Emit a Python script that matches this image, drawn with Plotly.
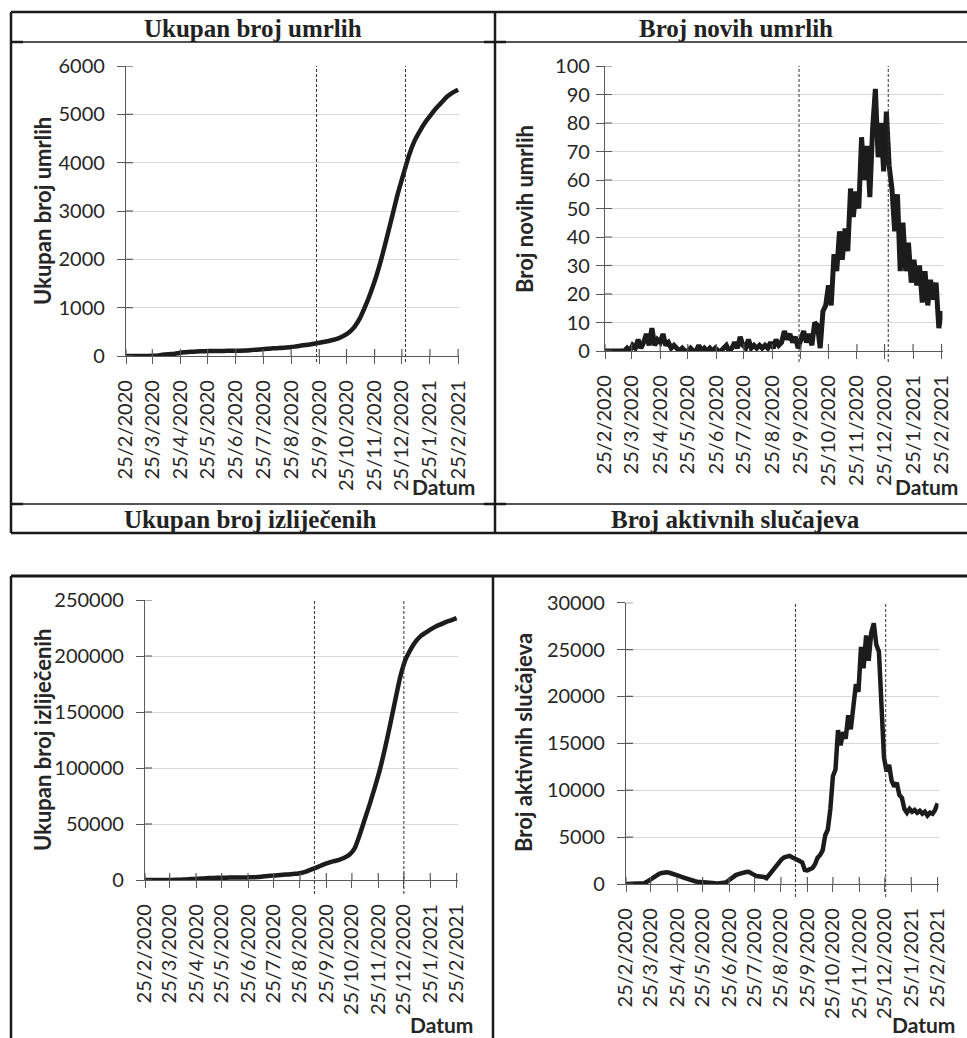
import pandas as pd
import plotly.graph_objects as go

W, H = 967, 1038
START = "2020-02-25"
X_END = "2021-02-26"
TICK_LABELS = ["25/2/2020", "25/3/2020", "25/4/2020", "25/5/2020", "25/6/2020",
               "25/7/2020", "25/8/2020", "25/9/2020", "25/10/2020", "25/11/2020",
               "25/12/2020", "25/1/2021", "25/2/2021"]

DEATHS_STEP = 6
total_deaths = [0, 0, 0, 0, 1, 5, 12, 31, 39, 48,
                69, 79, 90, 95, 99, 101, 103, 104, 106, 107,
                107, 109, 113, 122, 131, 139, 149, 159, 164, 170,
                180, 194, 213, 226, 243, 262, 283, 306, 330, 365,
                419, 490, 610, 790, 1040, 1330, 1660, 2050, 2490, 2940,
                3390, 3780, 4160, 4450, 4660, 4840, 4990, 5130, 5250, 5370,
                5450, 5510]

NEW_STEP = 3
new_deaths = [0, 0, 0, 0, 0, 0, 0, 0, 1, 0,
              2, 1, 4, 1, 3, 6, 2, 8, 2, 4,
              3, 6, 2, 3, 1, 2, 1, 0, 1, 0,
              0, 1, 0, 0, 2, 0, 1, 0, 1, 0,
              1, 0, 0, 1, 2, 0, 1, 3, 1, 5,
              2, 1, 4, 1, 2, 1, 2, 1, 2, 1,
              3, 1, 4, 2, 3, 7, 4, 6, 3, 5,
              1, 4, 7, 3, 6, 2, 10, 9, 1, 14,
              16, 23, 16, 34, 28, 42, 32, 43, 35, 57,
              47, 56, 50, 75, 60, 72, 54, 78, 92, 68,
              80, 63, 84, 65, 57, 42, 55, 28, 45, 28,
              38, 24, 32, 23, 30, 17, 28, 16, 25, 18,
              24, 8, 14]

RECOV_STEP = 6
total_recovered = [0, 0, 0, 0, 10, 50, 150, 300, 500, 800,
                   1100, 1300, 1600, 1800, 1950, 2050, 2100, 2150, 2200, 2250,
                   2300, 2450, 2700, 3100, 3500, 3900, 4300, 4700, 5000, 5400,
                   5800, 6800, 8400, 10200, 12000, 14000, 15500, 16800, 18000, 19800,
                   22500, 28000, 40000, 54000, 68000, 83000, 99000, 118000, 139000, 161000,
                   182000, 197000, 206000, 213000, 218000, 221000, 224000, 226500, 228500, 230500,
                   232000, 233800]

ACTIVE_STEP = 3
active_cases = [0, 0, 0, 0, 10, 20, 40, 80, 200, 380,
                600, 800, 960, 1090, 1180, 1230, 1240, 1200, 1130, 1040,
                950, 830, 720, 620, 520, 430, 370, 300, 250, 210,
                180, 150, 120, 100, 80, 70, 60, 60, 70, 150,
                350, 600, 800, 950, 1050, 1150, 1200, 1280, 1300, 1200,
                1000, 850, 830, 800, 750, 620, 900, 1300, 1650, 2000,
                2350, 2650, 2850, 2900, 3000, 2850, 2750, 2600, 2450, 2300,
                1500, 1450, 1550, 1700, 2100, 2800, 3100, 3600, 5200, 5800,
                8000, 11500, 12200, 16400, 14800, 16200, 15500, 18000, 16500, 19500,
                21300, 20500, 25300, 23000, 26500, 23800, 26800, 27800, 25500, 24800,
                19600, 13500, 12000, 12700, 11000, 10400, 10800, 9500, 9200, 8000,
                7600, 8000, 7700, 7900, 7600, 7800, 7500, 7700, 7300, 7600,
                7500, 7900, 8600]

HEADERS = ["Ukupan broj umrlih", "Broj novih umrlih",
           "Ukupan broj izliječenih", "Broj aktivnih slučajeva"]
Y_TITLES = ["Ukupan broj umrlih", "Broj novih umrlih",
            "Ukupan broj izliječenih", "Broj aktivnih slučajeva"]
X_TITLE = "Datum"
Y_MAX = [6000, 100, 250000, 30000]
Y_DTICK = [1000, 10, 50000, 5000]
DASH_DATES = [["2020-09-22", "2020-12-29"], ["2020-09-23", "2020-12-29"],
              ["2020-09-11", "2020-12-25"], ["2020-09-11", "2020-12-26"]]

SERIES = [(total_deaths, DEATHS_STEP), (new_deaths, NEW_STEP),
          (total_recovered, RECOV_STEP), (active_cases, ACTIVE_STEP)]
SMOOTH = [True, False, True, False]
LINE_W = [4.5, 5, 4.5, 4.5]

# ---------------- layout geometry (pixels) ----------------
PLOT_BOX = [(126, 459, 66, 356), (605, 942.5, 66, 351),
            (145, 457.5, 600, 880), (626, 938.5, 602.7, 884)]
YTITLE_POS = [(43, 211), (525, 209), (42, 740), (523, 743)]
DATUM_POS = [(476, 487), (959, 487), (474, None), (956, None)]
HEADER_POS = [(253, 28), (736, 28), (250, 519), (735, 519)]
YLAB_STANDOFF = [8, 2, 8, 8]
DASH_BELOW = [6, 11, 14, 13]

def px(x):
    return x / W

def py(y):
    return 1 - y / H

FONT = "Lato"
TXT = "#262626"
AX = "#5a5a5a"
tickvals = pd.to_datetime(TICK_LABELS, format="%d/%m/%Y")

fig = go.Figure()
shapes = []
annotations = []

for i, ((vals, step), box) in enumerate(zip(SERIES, PLOT_BOX)):
    n = i + 1
    sfx = "" if n == 1 else str(n)
    xs = pd.date_range(START, periods=len(vals), freq=f"{step}D")
    line = dict(color="#1c1c1c", width=LINE_W[i])
    if SMOOTH[i]:
        line.update(shape="spline", smoothing=0.6)
    fig.add_trace(go.Scatter(x=xs, y=vals, mode="lines", line=line,
                             xaxis=f"x{sfx}", yaxis=f"y{sfx}",
                             showlegend=False, hoverinfo="skip"))
    x0, x1, yt, yb = box
    fig.layout[f"xaxis{sfx}"] = dict(
        domain=[px(x0), px(x1)], anchor=f"y{sfx}", type="date",
        range=[START, X_END], tickmode="array", tickvals=tickvals,
        ticktext=TICK_LABELS, tickangle=-90, ticks="outside", ticklen=7,
        tickwidth=1.2, tickcolor=AX, showline=True, linecolor=AX, linewidth=1.2,
        showgrid=False, zeroline=False, ticklabelstandoff=8, automargin=False,
        tickfont=dict(family=FONT, size=20, color=TXT))
    fig.layout[f"yaxis{sfx}"] = dict(
        domain=[py(yb), py(yt)], anchor=f"x{sfx}", range=[0, Y_MAX[i]],
        dtick=Y_DTICK[i], tick0=0, tickformat="d", ticks="outside", ticklen=8,
        tickwidth=1.2, tickcolor=AX, showline=True, linecolor=AX, linewidth=1.2,
        showgrid=True, gridcolor="#d9d9d9", gridwidth=1.3, zeroline=False,
        ticklabelstandoff=YLAB_STANDOFF[i], automargin=False,
        tickfont=dict(family=FONT, size=20, color=TXT))
    # inner half of crossing tick marks
    for tv in tickvals:
        shapes.append(dict(type="line", xref=f"x{sfx}", yref=f"y{sfx}",
                           x0=tv, x1=tv, ysizemode="pixel", yanchor=0, y0=0, y1=7,
                           line=dict(color=AX, width=1.2)))
    yv = 0
    while yv <= Y_MAX[i]:
        shapes.append(dict(type="line", xref=f"x{sfx}", yref=f"y{sfx}",
                           y0=yv, y1=yv, xsizemode="pixel", xanchor=START, x0=0, x1=7,
                           line=dict(color=AX, width=1.2)))
        yv += Y_DTICK[i]
    # dashed reference lines
    for d in DASH_DATES[i]:
        shapes.append(dict(type="line", xref=f"x{sfx}", yref="paper",
                           x0=d, x1=d, y0=py(yb + DASH_BELOW[i]), y1=py(yt),
                           line=dict(color="#333333", width=1, dash="3px,2px")))
    # axis titles
    tx, ty = YTITLE_POS[i]
    annotations.append(dict(text=f"<b>{Y_TITLES[i]}</b>", x=px(tx), y=py(ty),
                            xref="paper", yref="paper", showarrow=False,
                            textangle=-90, xanchor="center", yanchor="middle",
                            font=dict(family=FONT, size=22, color=TXT)))
    dx, dy = DATUM_POS[i]
    annotations.append(dict(text=f"<b>{X_TITLE}</b>", x=px(dx),
                            y=0 if dy is None else py(dy),
                            xref="paper", yref="paper", showarrow=False,
                            xanchor="right", yanchor="bottom" if dy is None else "middle",
                            borderpad=0,
                            font=dict(family=FONT, size=21, color=TXT)))
    hx, hy = HEADER_POS[i]
    annotations.append(dict(text=f"<b>{HEADERS[i]}</b>", x=px(hx), y=py(hy),
                            xref="paper", yref="paper", showarrow=False,
                            xanchor="center", yanchor="middle",
                            font=dict(family="Liberation Serif", size=25, color="#222222")))

# table-like frame lines
FRAME = [((11, 12), (967, 12), 2.5), ((11, 42), (967, 42), 1.3),
         ((11, 504), (967, 504), 1.3), ((11, 533), (967, 533), 2.5),
         ((11, 12), (11, 533), 2.5), ((495, 12), (495, 533), 2.5),
         ((11, 42), (23, 42), 2.5), ((484, 42), (506, 42), 2.5),
         ((11, 504), (23, 504), 2.5), ((484, 504), (506, 504), 2.5),
         ((11, 576), (967, 576), 3), ((11, 576), (11, 1038), 2.5),
         ((493, 576), (493, 1038), 2.5)]
for (a, b, w) in FRAME:
    shapes.append(dict(type="line", xref="paper", yref="paper",
                       x0=px(a[0]), y0=py(a[1]), x1=px(b[0]), y1=py(b[1]),
                       line=dict(color="#1a1a1a", width=w)))

fig.update_layout(width=W, height=H,
                  margin=dict(l=0, r=0, t=0, b=0, pad=0, autoexpand=False),
                  paper_bgcolor="white", plot_bgcolor="white",
                  shapes=shapes, annotations=annotations)
fig.write_html("out.html", config={"displayModeBar": False},
               post_script="document.body.style.margin='0px';"
                           "document.body.style.overflow='hidden';")
